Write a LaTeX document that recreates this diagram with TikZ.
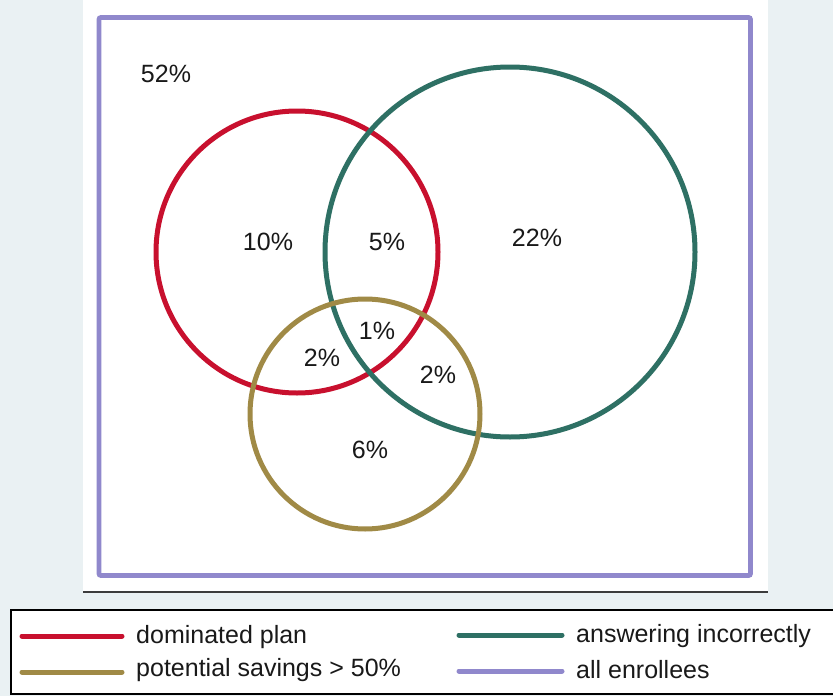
\documentclass[tikz,border=0pt]{standalone}
\usepackage{fontspec}
\setmainfont{Liberation Sans}
\definecolor{pagebg}{RGB}{234,241,243}
\definecolor{setred}{RGB}{200,16,46}
\definecolor{setteal}{RGB}{46,112,100}
\definecolor{setgold}{RGB}{160,138,70}
\definecolor{setpurple}{RGB}{144,136,204}
\definecolor{rulegray}{RGB}{60,60,60}
\begin{document}
\begin{tikzpicture}[x=1pt,y=-1pt,
  setring/.style={circle,draw,line width=5pt,inner sep=0pt},
  pct/.style={font=\fontsize{25}{29}\selectfont,text=black!90,inner sep=0pt},
  legtext/.style={font=\fontsize{25}{29}\selectfont,text=black!90,anchor=west,inner sep=0pt},
  legline/.style={line width=5pt,line cap=round}]
  \useasboundingbox (0,0) rectangle (833,696);
  % page background and plot region
  \fill[pagebg] (0,0) rectangle (833,696);
  \fill[white] (83,0) rectangle (768,592);
  \draw[rulegray,line width=2pt] (83,592) -- (768,592);
  % universe frame
  \draw[setpurple,line width=4.8pt,rounded corners=2pt] (99,17.5) rectangle (750.5,575.5);
  % the three sets
  \node[setring,draw=setred,minimum size=282pt] (dom) at (297,252) {};
  \node[setring,draw=setteal,minimum size=370pt] (ans) at (510,252) {};
  \node[setring,draw=setgold,minimum size=230pt] (sav) at (365,414) {};
  % region shares
  \node[pct] (p52) at (166,74) {52\%};
  \node[pct] (p10) at (268,242) {10\%};
  \node[pct] (p5) at (387,242) {5\%};
  \node[pct] (p22) at (537,238) {22\%};
  \node[pct] (p1) at (377,331) {1\%};
  \node[pct] (p2a) at (322,358) {2\%};
  \node[pct] (p2b) at (438,375) {2\%};
  \node[pct] (p6) at (370,450) {6\%};
  % legend
  \draw[black,line width=2pt,fill=white] (11,610) rectangle (840,694);
  \coordinate (l1a) at (22,636); \coordinate (l1b) at (122,636);
  \coordinate (l2a) at (22,672); \coordinate (l2b) at (122,672);
  \coordinate (l3a) at (459,635); \coordinate (l3b) at (562,635);
  \coordinate (l4a) at (459,671); \coordinate (l4b) at (562,671);
  \draw[legline,setred] (l1a) -- (l1b);
  \draw[legline,setgold] (l2a) -- (l2b);
  \draw[legline,setteal] (l3a) -- (l3b);
  \draw[legline,setpurple] (l4a) -- (l4b);
  \node[legtext] (t1) at (136,637) {dominated plan};
  \node[legtext] (t2) at (136,670) {potential savings > 50\%};
  \node[legtext] (t3) at (576,636) {answering incorrectly};
  \node[legtext] (t4) at (576,670) {all enrollees};
\end{tikzpicture}
\end{document}
